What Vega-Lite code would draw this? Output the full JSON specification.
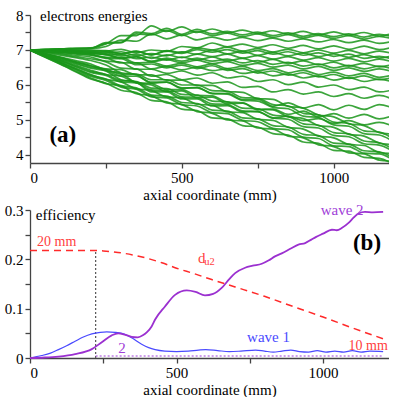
{
"$schema":"https://vega.github.io/schema/vega-lite/v6.json",
"padding":{"left":4,"top":8,"right":0,"bottom":0},
"bounds":"flush",
"spacing":47,
"config":{"font":"Liberation Serif, Times New Roman, serif","view":{"stroke":null},
"axis":{"labelFont":"Liberation Serif, Times New Roman, serif","titleFont":"Liberation Serif, Times New Roman, serif","labelFontSize":15,"titleFontSize":15,"titleFontWeight":"normal","labelColor":"#000","titleColor":"#000","domainColor":"#444","tickColor":"#444","domainWidth":1.3,"tickWidth":1.3,"tickSize":5,"grid":false,"labelPadding":2,"titlePadding":2,"labelOverlap":false,"labelBound":false}},
"datasets":{
"top":[
{"s":1,"x":0,"y":7.0},{"s":1,"x":50,"y":7.02},{"s":1,"x":100,"y":7.03},{"s":1,"x":150,"y":7.05},{"s":1,"x":200,"y":7.06},{"s":1,"x":250,"y":7.17},{"s":1,"x":300,"y":7.41},{"s":1,"x":350,"y":7.41},{"s":1,"x":400,"y":7.69},{"s":1,"x":450,"y":7.53},{"s":1,"x":500,"y":7.66},{"s":1,"x":550,"y":7.50},{"s":1,"x":600,"y":7.60},{"s":1,"x":650,"y":7.49},{"s":1,"x":700,"y":7.57},{"s":1,"x":750,"y":7.47},{"s":1,"x":800,"y":7.55},{"s":1,"x":850,"y":7.45},{"s":1,"x":900,"y":7.53},{"s":1,"x":950,"y":7.43},{"s":1,"x":1000,"y":7.52},{"s":1,"x":1050,"y":7.42},{"s":1,"x":1100,"y":7.50},{"s":1,"x":1150,"y":7.40},{"s":1,"x":1200,"y":7.49},
{"s":2,"x":0,"y":7.0},{"s":2,"x":50,"y":7.01},{"s":2,"x":100,"y":7.03},{"s":2,"x":150,"y":7.04},{"s":2,"x":200,"y":7.05},{"s":2,"x":250,"y":7.19},{"s":2,"x":300,"y":7.21},{"s":2,"x":350,"y":7.46},{"s":2,"x":400,"y":7.43},{"s":2,"x":450,"y":7.56},{"s":2,"x":500,"y":7.41},{"s":2,"x":550,"y":7.53},{"s":2,"x":600,"y":7.41},{"s":2,"x":650,"y":7.48},{"s":2,"x":700,"y":7.38},{"s":2,"x":750,"y":7.46},{"s":2,"x":800,"y":7.36},{"s":2,"x":850,"y":7.44},{"s":2,"x":900,"y":7.34},{"s":2,"x":950,"y":7.42},{"s":2,"x":1000,"y":7.33},{"s":2,"x":1050,"y":7.41},{"s":2,"x":1100,"y":7.31},{"s":2,"x":1150,"y":7.39},{"s":2,"x":1200,"y":7.30},
{"s":3,"x":0,"y":7.0},{"s":3,"x":50,"y":7.01},{"s":3,"x":100,"y":7.02},{"s":3,"x":150,"y":7.03},{"s":3,"x":200,"y":7.04},{"s":3,"x":250,"y":7.10},{"s":3,"x":300,"y":7.28},{"s":3,"x":350,"y":7.25},{"s":3,"x":400,"y":7.46},{"s":3,"x":450,"y":7.32},{"s":3,"x":500,"y":7.43},{"s":3,"x":550,"y":7.29},{"s":3,"x":600,"y":7.37},{"s":3,"x":650,"y":7.28},{"s":3,"x":700,"y":7.36},{"s":3,"x":750,"y":7.27},{"s":3,"x":800,"y":7.34},{"s":3,"x":850,"y":7.25},{"s":3,"x":900,"y":7.32},{"s":3,"x":950,"y":7.23},{"s":3,"x":1000,"y":7.30},{"s":3,"x":1050,"y":7.21},{"s":3,"x":1100,"y":7.28},{"s":3,"x":1150,"y":7.19},{"s":3,"x":1200,"y":7.26},
{"s":4,"x":0,"y":7.0},{"s":4,"x":50,"y":7.0},{"s":4,"x":100,"y":7.0},{"s":4,"x":150,"y":7.0},{"s":4,"x":200,"y":7.0},{"s":4,"x":250,"y":6.97},{"s":4,"x":300,"y":7.02},{"s":4,"x":350,"y":6.92},{"s":4,"x":400,"y":7.0},{"s":4,"x":450,"y":6.96},{"s":4,"x":500,"y":7.10},{"s":4,"x":550,"y":7.06},{"s":4,"x":600,"y":7.20},{"s":4,"x":650,"y":7.09},{"s":4,"x":700,"y":7.17},{"s":4,"x":750,"y":7.07},{"s":4,"x":800,"y":7.15},{"s":4,"x":850,"y":7.05},{"s":4,"x":900,"y":7.13},{"s":4,"x":950,"y":7.03},{"s":4,"x":1000,"y":7.12},{"s":4,"x":1050,"y":7.02},{"s":4,"x":1100,"y":7.11},{"s":4,"x":1150,"y":7.01},{"s":4,"x":1200,"y":7.10},
{"s":5,"x":0,"y":7.0},{"s":5,"x":50,"y":7.0},{"s":5,"x":100,"y":6.99},{"s":5,"x":150,"y":6.99},{"s":5,"x":200,"y":6.98},{"s":5,"x":250,"y":6.98},{"s":5,"x":300,"y":6.90},{"s":5,"x":350,"y":6.97},{"s":5,"x":400,"y":6.86},{"s":5,"x":450,"y":6.98},{"s":5,"x":500,"y":6.93},{"s":5,"x":550,"y":7.06},{"s":5,"x":600,"y":7.0},{"s":5,"x":650,"y":7.08},{"s":5,"x":700,"y":6.97},{"s":5,"x":750,"y":7.04},{"s":5,"x":800,"y":6.94},{"s":5,"x":850,"y":7.02},{"s":5,"x":900,"y":6.92},{"s":5,"x":950,"y":7.0},{"s":5,"x":1000,"y":6.91},{"s":5,"x":1050,"y":6.99},{"s":5,"x":1100,"y":6.89},{"s":5,"x":1150,"y":6.97},{"s":5,"x":1200,"y":6.88},
{"s":6,"x":0,"y":7.0},{"s":6,"x":50,"y":6.99},{"s":6,"x":100,"y":6.98},{"s":6,"x":150,"y":6.97},{"s":6,"x":200,"y":6.96},{"s":6,"x":250,"y":6.91},{"s":6,"x":300,"y":6.95},{"s":6,"x":350,"y":6.83},{"s":6,"x":400,"y":6.90},{"s":6,"x":450,"y":6.83},{"s":6,"x":500,"y":6.95},{"s":6,"x":550,"y":6.88},{"s":6,"x":600,"y":7.0},{"s":6,"x":650,"y":6.89},{"s":6,"x":700,"y":6.96},{"s":6,"x":750,"y":6.85},{"s":6,"x":800,"y":6.93},{"s":6,"x":850,"y":6.83},{"s":6,"x":900,"y":6.91},{"s":6,"x":950,"y":6.81},{"s":6,"x":1000,"y":6.89},{"s":6,"x":1050,"y":6.79},{"s":6,"x":1100,"y":6.87},{"s":6,"x":1150,"y":6.77},{"s":6,"x":1200,"y":6.85},
{"s":7,"x":0,"y":7.0},{"s":7,"x":50,"y":6.99},{"s":7,"x":100,"y":6.97},{"s":7,"x":150,"y":6.96},{"s":7,"x":200,"y":6.94},{"s":7,"x":250,"y":6.93},{"s":7,"x":300,"y":6.83},{"s":7,"x":350,"y":6.88},{"s":7,"x":400,"y":6.76},{"s":7,"x":450,"y":6.86},{"s":7,"x":500,"y":6.78},{"s":7,"x":550,"y":6.88},{"s":7,"x":600,"y":6.81},{"s":7,"x":650,"y":6.88},{"s":7,"x":700,"y":6.77},{"s":7,"x":750,"y":6.84},{"s":7,"x":800,"y":6.74},{"s":7,"x":850,"y":6.81},{"s":7,"x":900,"y":6.71},{"s":7,"x":950,"y":6.78},{"s":7,"x":1000,"y":6.68},{"s":7,"x":1050,"y":6.76},{"s":7,"x":1100,"y":6.66},{"s":7,"x":1150,"y":6.74},{"s":7,"x":1200,"y":6.64},
{"s":8,"x":0,"y":7.0},{"s":8,"x":50,"y":6.98},{"s":8,"x":100,"y":6.96},{"s":8,"x":150,"y":6.94},{"s":8,"x":200,"y":6.92},{"s":8,"x":250,"y":6.86},{"s":8,"x":300,"y":6.88},{"s":8,"x":350,"y":6.75},{"s":8,"x":400,"y":6.80},{"s":8,"x":450,"y":6.71},{"s":8,"x":500,"y":6.80},{"s":8,"x":550,"y":6.71},{"s":8,"x":600,"y":6.80},{"s":8,"x":650,"y":6.69},{"s":8,"x":700,"y":6.76},{"s":8,"x":750,"y":6.65},{"s":8,"x":800,"y":6.73},{"s":8,"x":850,"y":6.62},{"s":8,"x":900,"y":6.69},{"s":8,"x":950,"y":6.58},{"s":8,"x":1000,"y":6.65},{"s":8,"x":1050,"y":6.54},{"s":8,"x":1100,"y":6.62},{"s":8,"x":1150,"y":6.52},{"s":8,"x":1200,"y":6.60},
{"s":9,"x":0,"y":7.0},{"s":9,"x":50,"y":6.98},{"s":9,"x":100,"y":6.95},{"s":9,"x":150,"y":6.93},{"s":9,"x":200,"y":6.9},{"s":9,"x":250,"y":6.87},{"s":9,"x":300,"y":6.76},{"s":9,"x":350,"y":6.80},{"s":9,"x":400,"y":6.66},{"s":9,"x":450,"y":6.73},{"s":9,"x":500,"y":6.63},{"s":9,"x":550,"y":6.71},{"s":9,"x":600,"y":6.61},{"s":9,"x":650,"y":6.67},{"s":9,"x":700,"y":6.56},{"s":9,"x":750,"y":6.62},{"s":9,"x":800,"y":6.51},{"s":9,"x":850,"y":6.57},{"s":9,"x":900,"y":6.46},{"s":9,"x":950,"y":6.53},{"s":9,"x":1000,"y":6.42},{"s":9,"x":1050,"y":6.49},{"s":9,"x":1100,"y":6.39},{"s":9,"x":1150,"y":6.46},{"s":9,"x":1200,"y":6.36},
{"s":10,"x":0,"y":7.0},{"s":10,"x":50,"y":6.97},{"s":10,"x":100,"y":6.94},{"s":10,"x":150,"y":6.91},{"s":10,"x":200,"y":6.88},{"s":10,"x":250,"y":6.79},{"s":10,"x":300,"y":6.79},{"s":10,"x":350,"y":6.63},{"s":10,"x":400,"y":6.65},{"s":10,"x":450,"y":6.54},{"s":10,"x":500,"y":6.62},{"s":10,"x":550,"y":6.52},{"s":10,"x":600,"y":6.60},{"s":10,"x":650,"y":6.47},{"s":10,"x":700,"y":6.53},{"s":10,"x":750,"y":6.41},{"s":10,"x":800,"y":6.47},{"s":10,"x":850,"y":6.35},{"s":10,"x":900,"y":6.42},{"s":10,"x":950,"y":6.30},{"s":10,"x":1000,"y":6.37},{"s":10,"x":1050,"y":6.26},{"s":10,"x":1100,"y":6.33},{"s":10,"x":1150,"y":6.22},{"s":10,"x":1200,"y":6.30},
{"s":11,"x":0,"y":7.0},{"s":11,"x":50,"y":6.96},{"s":11,"x":100,"y":6.93},{"s":11,"x":150,"y":6.89},{"s":11,"x":200,"y":6.85},{"s":11,"x":250,"y":6.78},{"s":11,"x":300,"y":6.63},{"s":11,"x":350,"y":6.63},{"s":11,"x":400,"y":6.46},{"s":11,"x":450,"y":6.53},{"s":11,"x":500,"y":6.43},{"s":11,"x":550,"y":6.51},{"s":11,"x":600,"y":6.41},{"s":11,"x":650,"y":6.46},{"s":11,"x":700,"y":6.33},{"s":11,"x":750,"y":6.38},{"s":11,"x":800,"y":6.26},{"s":11,"x":850,"y":6.32},{"s":11,"x":900,"y":6.20},{"s":11,"x":950,"y":6.26},{"s":11,"x":1000,"y":6.14},{"s":11,"x":1050,"y":6.21},{"s":11,"x":1100,"y":6.10},{"s":11,"x":1150,"y":6.17},{"s":11,"x":1200,"y":6.06},
{"s":12,"x":0,"y":7.0},{"s":12,"x":50,"y":6.95},{"s":12,"x":100,"y":6.9},{"s":12,"x":150,"y":6.85},{"s":12,"x":200,"y":6.8},{"s":12,"x":250,"y":6.68},{"s":12,"x":300,"y":6.65},{"s":12,"x":350,"y":6.45},{"s":12,"x":400,"y":6.45},{"s":12,"x":450,"y":6.33},{"s":12,"x":500,"y":6.40},{"s":12,"x":550,"y":6.28},{"s":12,"x":600,"y":6.35},{"s":12,"x":650,"y":6.20},{"s":12,"x":700,"y":6.25},{"s":12,"x":750,"y":6.10},{"s":12,"x":800,"y":6.15},{"s":12,"x":850,"y":6.01},{"s":12,"x":900,"y":6.08},{"s":12,"x":950,"y":5.94},{"s":12,"x":1000,"y":6.0},{"s":12,"x":1050,"y":5.87},{"s":12,"x":1100,"y":5.94},{"s":12,"x":1150,"y":5.80},{"s":12,"x":1200,"y":5.87},
{"s":13,"x":0,"y":7.0},{"s":13,"x":50,"y":6.93},{"s":13,"x":100,"y":6.85},{"s":13,"x":150,"y":6.78},{"s":13,"x":200,"y":6.7},{"s":13,"x":250,"y":6.57},{"s":13,"x":300,"y":6.35},{"s":13,"x":350,"y":6.30},{"s":13,"x":400,"y":6.05},{"s":13,"x":450,"y":6.08},{"s":13,"x":500,"y":5.90},{"s":13,"x":550,"y":5.93},{"s":13,"x":600,"y":5.75},{"s":13,"x":650,"y":5.76},{"s":13,"x":700,"y":5.58},{"s":13,"x":750,"y":5.59},{"s":13,"x":800,"y":5.39},{"s":13,"x":850,"y":5.49},{"s":13,"x":900,"y":5.34},{"s":13,"x":950,"y":5.44},{"s":13,"x":1000,"y":5.29},{"s":13,"x":1050,"y":5.42},{"s":13,"x":1100,"y":5.30},{"s":13,"x":1150,"y":5.44},{"s":13,"x":1200,"y":5.32},
{"s":14,"x":0,"y":7.0},{"s":14,"x":50,"y":6.9},{"s":14,"x":100,"y":6.8},{"s":14,"x":150,"y":6.7},{"s":14,"x":200,"y":6.6},{"s":14,"x":250,"y":6.42},{"s":14,"x":300,"y":6.33},{"s":14,"x":350,"y":6.06},{"s":14,"x":400,"y":6.0},{"s":14,"x":450,"y":5.81},{"s":14,"x":500,"y":5.83},{"s":14,"x":550,"y":5.64},{"s":14,"x":600,"y":5.65},{"s":14,"x":650,"y":5.46},{"s":14,"x":700,"y":5.48},{"s":14,"x":750,"y":5.29},{"s":14,"x":800,"y":5.31},{"s":14,"x":850,"y":5.16},{"s":14,"x":900,"y":5.25},{"s":14,"x":950,"y":5.09},{"s":14,"x":1000,"y":5.18},{"s":14,"x":1050,"y":5.05},{"s":14,"x":1100,"y":5.16},{"s":14,"x":1150,"y":5.03},{"s":14,"x":1200,"y":5.14},
{"s":15,"x":0,"y":7.0},{"s":15,"x":50,"y":6.89},{"s":15,"x":100,"y":6.78},{"s":15,"x":150,"y":6.66},{"s":15,"x":200,"y":6.55},{"s":15,"x":250,"y":6.40},{"s":15,"x":300,"y":6.15},{"s":15,"x":350,"y":6.08},{"s":15,"x":400,"y":5.80},{"s":15,"x":450,"y":5.80},{"s":15,"x":500,"y":5.60},{"s":15,"x":550,"y":5.60},{"s":15,"x":600,"y":5.40},{"s":15,"x":650,"y":5.41},{"s":15,"x":700,"y":5.23},{"s":15,"x":750,"y":5.24},{"s":15,"x":800,"y":5.05},{"s":15,"x":850,"y":5.11},{"s":15,"x":900,"y":4.98},{"s":15,"x":950,"y":5.04},{"s":15,"x":1000,"y":4.90},{"s":15,"x":1050,"y":4.98},{"s":15,"x":1100,"y":4.86},{"s":15,"x":1150,"y":4.93},{"s":15,"x":1200,"y":4.81},
{"s":16,"x":0,"y":7.0},{"s":16,"x":50,"y":6.89},{"s":16,"x":100,"y":6.78},{"s":16,"x":150,"y":6.66},{"s":16,"x":200,"y":6.55},{"s":16,"x":250,"y":6.46},{"s":16,"x":300,"y":6.44},{"s":16,"x":350,"y":6.29},{"s":16,"x":400,"y":6.29},{"s":16,"x":450,"y":6.14},{"s":16,"x":500,"y":6.14},{"s":16,"x":550,"y":5.99},{"s":16,"x":600,"y":5.99},{"s":16,"x":650,"y":5.81},{"s":16,"x":700,"y":5.79},{"s":16,"x":750,"y":5.61},{"s":16,"x":800,"y":5.59},{"s":16,"x":850,"y":5.39},{"s":16,"x":900,"y":5.34},{"s":16,"x":950,"y":5.14},{"s":16,"x":1000,"y":5.09},{"s":16,"x":1050,"y":4.89},{"s":16,"x":1100,"y":4.84},{"s":16,"x":1150,"y":4.64},{"s":16,"x":1200,"y":4.59},
{"s":17,"x":0,"y":7.0},{"s":17,"x":50,"y":6.87},{"s":17,"x":100,"y":6.74},{"s":17,"x":150,"y":6.61},{"s":17,"x":200,"y":6.48},{"s":17,"x":250,"y":6.41},{"s":17,"x":300,"y":6.26},{"s":17,"x":350,"y":6.25},{"s":17,"x":400,"y":6.08},{"s":17,"x":450,"y":6.08},{"s":17,"x":500,"y":5.92},{"s":17,"x":550,"y":5.92},{"s":17,"x":600,"y":5.76},{"s":17,"x":650,"y":5.74},{"s":17,"x":700,"y":5.56},{"s":17,"x":750,"y":5.54},{"s":17,"x":800,"y":5.36},{"s":17,"x":850,"y":5.32},{"s":17,"x":900,"y":5.11},{"s":17,"x":950,"y":5.07},{"s":17,"x":1000,"y":4.86},{"s":17,"x":1050,"y":4.82},{"s":17,"x":1100,"y":4.61},{"s":17,"x":1150,"y":4.57},{"s":17,"x":1200,"y":4.36},
{"s":18,"x":0,"y":7.0},{"s":18,"x":50,"y":6.86},{"s":18,"x":100,"y":6.71},{"s":18,"x":150,"y":6.57},{"s":18,"x":200,"y":6.42},{"s":18,"x":250,"y":6.30},{"s":18,"x":300,"y":6.25},{"s":18,"x":350,"y":6.07},{"s":18,"x":400,"y":6.04},{"s":18,"x":450,"y":5.87},{"s":18,"x":500,"y":5.87},{"s":18,"x":550,"y":5.70},{"s":18,"x":600,"y":5.69},{"s":18,"x":650,"y":5.51},{"s":18,"x":700,"y":5.49},{"s":18,"x":750,"y":5.31},{"s":18,"x":800,"y":5.29},{"s":18,"x":850,"y":5.09},{"s":18,"x":900,"y":5.04},{"s":18,"x":950,"y":4.84},{"s":18,"x":1000,"y":4.79},{"s":18,"x":1050,"y":4.59},{"s":18,"x":1100,"y":4.54},{"s":18,"x":1150,"y":4.34},{"s":18,"x":1200,"y":4.29},
{"s":19,"x":0,"y":7.0},{"s":19,"x":50,"y":6.84},{"s":19,"x":100,"y":6.68},{"s":19,"x":150,"y":6.52},{"s":19,"x":200,"y":6.36},{"s":19,"x":250,"y":6.27},{"s":19,"x":300,"y":6.09},{"s":19,"x":350,"y":6.06},{"s":19,"x":400,"y":5.86},{"s":19,"x":450,"y":5.84},{"s":19,"x":500,"y":5.66},{"s":19,"x":550,"y":5.64},{"s":19,"x":600,"y":5.46},{"s":19,"x":650,"y":5.44},{"s":19,"x":700,"y":5.26},{"s":19,"x":750,"y":5.24},{"s":19,"x":800,"y":5.06},{"s":19,"x":850,"y":5.02},{"s":19,"x":900,"y":4.81},{"s":19,"x":950,"y":4.77},{"s":19,"x":1000,"y":4.56},{"s":19,"x":1050,"y":4.52},{"s":19,"x":1100,"y":4.32},{"s":19,"x":1150,"y":4.28},{"s":19,"x":1200,"y":4.08},
{"s":20,"x":0,"y":7.0},{"s":20,"x":50,"y":6.83},{"s":20,"x":100,"y":6.65},{"s":20,"x":150,"y":6.48},{"s":20,"x":200,"y":6.3},{"s":20,"x":250,"y":6.16},{"s":20,"x":300,"y":6.09},{"s":20,"x":350,"y":5.89},{"s":20,"x":400,"y":5.84},{"s":20,"x":450,"y":5.66},{"s":20,"x":500,"y":5.63},{"s":20,"x":550,"y":5.45},{"s":20,"x":600,"y":5.42},{"s":20,"x":650,"y":5.23},{"s":20,"x":700,"y":5.21},{"s":20,"x":750,"y":5.02},{"s":20,"x":800,"y":4.99},{"s":20,"x":850,"y":4.79},{"s":20,"x":900,"y":4.74},{"s":20,"x":950,"y":4.54},{"s":20,"x":1000,"y":4.49},{"s":20,"x":1050,"y":4.30},{"s":20,"x":1100,"y":4.27},{"s":20,"x":1150,"y":4.07},{"s":20,"x":1200,"y":4.04},
{"s":21,"x":0,"y":7.0},{"s":21,"x":50,"y":6.81},{"s":21,"x":100,"y":6.63},{"s":21,"x":150,"y":6.44},{"s":21,"x":200,"y":6.25},{"s":21,"x":250,"y":6.13},{"s":21,"x":300,"y":5.94},{"s":21,"x":350,"y":5.88},{"s":21,"x":400,"y":5.66},{"s":21,"x":450,"y":5.63},{"s":21,"x":500,"y":5.44},{"s":21,"x":550,"y":5.40},{"s":21,"x":600,"y":5.21},{"s":21,"x":650,"y":5.18},{"s":21,"x":700,"y":4.99},{"s":21,"x":750,"y":4.95},{"s":21,"x":800,"y":4.76},{"s":21,"x":850,"y":4.72},{"s":21,"x":900,"y":4.51},{"s":21,"x":950,"y":4.47},{"s":21,"x":1000,"y":4.26},{"s":21,"x":1050,"y":4.24},{"s":21,"x":1100,"y":4.05},{"s":21,"x":1150,"y":4.03},{"s":21,"x":1200,"y":3.84},
{"s":22,"x":0,"y":7.0},{"s":22,"x":50,"y":6.8},{"s":22,"x":100,"y":6.6},{"s":22,"x":150,"y":6.4},{"s":22,"x":200,"y":6.2},{"s":22,"x":250,"y":6.04},{"s":22,"x":300,"y":5.97},{"s":22,"x":350,"y":5.75},{"s":22,"x":400,"y":5.69},{"s":22,"x":450,"y":5.49},{"s":22,"x":500,"y":5.44},{"s":22,"x":550,"y":5.24},{"s":22,"x":600,"y":5.19},{"s":22,"x":650,"y":5.0},{"s":22,"x":700,"y":4.97},{"s":22,"x":750,"y":4.77},{"s":22,"x":800,"y":4.74},{"s":22,"x":850,"y":4.54},{"s":22,"x":900,"y":4.49},{"s":22,"x":950,"y":4.29},{"s":22,"x":1000,"y":4.24},{"s":22,"x":1050,"y":4.06},{"s":22,"x":1100,"y":4.03},{"s":22,"x":1150,"y":3.85},{"s":22,"x":1200,"y":3.82},
{"s":23,"x":0,"y":7.0},{"s":23,"x":50,"y":6.88},{"s":23,"x":100,"y":6.76},{"s":23,"x":150,"y":6.63},{"s":23,"x":200,"y":6.51},{"s":23,"x":250,"y":6.45},{"s":23,"x":300,"y":6.31},{"s":23,"x":350,"y":6.31},{"s":23,"x":400,"y":6.15},{"s":23,"x":450,"y":6.15},{"s":23,"x":500,"y":6.0},{"s":23,"x":550,"y":6.0},{"s":23,"x":600,"y":5.84},{"s":23,"x":650,"y":5.82},{"s":23,"x":700,"y":5.64},{"s":23,"x":750,"y":5.62},{"s":23,"x":800,"y":5.44},{"s":23,"x":850,"y":5.40},{"s":23,"x":900,"y":5.19},{"s":23,"x":950,"y":5.15},{"s":23,"x":1000,"y":4.94},{"s":23,"x":1050,"y":4.90},{"s":23,"x":1100,"y":4.69},{"s":23,"x":1150,"y":4.65},{"s":23,"x":1200,"y":4.44},
{"s":24,"x":0,"y":7.0},{"s":24,"x":50,"y":6.85},{"s":24,"x":100,"y":6.70},{"s":24,"x":150,"y":6.54},{"s":24,"x":200,"y":6.39},{"s":24,"x":250,"y":6.30},{"s":24,"x":300,"y":6.13},{"s":24,"x":350,"y":6.10},{"s":24,"x":400,"y":5.91},{"s":24,"x":450,"y":5.90},{"s":24,"x":500,"y":5.73},{"s":24,"x":550,"y":5.71},{"s":24,"x":600,"y":5.54},{"s":24,"x":650,"y":5.52},{"s":24,"x":700,"y":5.34},{"s":24,"x":750,"y":5.32},{"s":24,"x":800,"y":5.14},{"s":24,"x":850,"y":5.10},{"s":24,"x":900,"y":4.89},{"s":24,"x":950,"y":4.85},{"s":24,"x":1000,"y":4.64},{"s":24,"x":1050,"y":4.60},{"s":24,"x":1100,"y":4.40},{"s":24,"x":1150,"y":4.35},{"s":24,"x":1200,"y":4.15},
{"s":25,"x":0,"y":7.0},{"s":25,"x":50,"y":6.82},{"s":25,"x":100,"y":6.64},{"s":25,"x":150,"y":6.46},{"s":25,"x":200,"y":6.28},{"s":25,"x":250,"y":6.17},{"s":25,"x":300,"y":5.98},{"s":25,"x":350,"y":5.92},{"s":25,"x":400,"y":5.71},{"s":25,"x":450,"y":5.68},{"s":25,"x":500,"y":5.50},{"s":25,"x":550,"y":5.47},{"s":25,"x":600,"y":5.28},{"s":25,"x":650,"y":5.25},{"s":25,"x":700,"y":5.06},{"s":25,"x":750,"y":5.03},{"s":25,"x":800,"y":4.84},{"s":25,"x":850,"y":4.80},{"s":25,"x":900,"y":4.59},{"s":25,"x":950,"y":4.55},{"s":25,"x":1000,"y":4.34},{"s":25,"x":1050,"y":4.31},{"s":25,"x":1100,"y":4.12},{"s":25,"x":1150,"y":4.09},{"s":25,"x":1200,"y":3.90},
{"s":26,"x":0,"y":7.0},{"s":26,"x":50,"y":6.94},{"s":26,"x":100,"y":6.88},{"s":26,"x":150,"y":6.81},{"s":26,"x":200,"y":6.75},{"s":26,"x":250,"y":6.66},{"s":26,"x":300,"y":6.48},{"s":26,"x":350,"y":6.46},{"s":26,"x":400,"y":6.25},{"s":26,"x":450,"y":6.30},{"s":26,"x":500,"y":6.15},{"s":26,"x":550,"y":6.20},{"s":26,"x":600,"y":6.05},{"s":26,"x":650,"y":6.09},{"s":26,"x":700,"y":5.93},{"s":26,"x":750,"y":5.96},{"s":26,"x":800,"y":5.80},{"s":26,"x":850,"y":5.87},{"s":26,"x":900,"y":5.74},{"s":26,"x":950,"y":5.80},{"s":26,"x":1000,"y":5.67},{"s":26,"x":1050,"y":5.75},{"s":26,"x":1100,"y":5.62},{"s":26,"x":1150,"y":5.70},{"s":26,"x":1200,"y":5.57},
{"s":27,"x":0,"y":7.0},{"s":27,"x":50,"y":6.99},{"s":27,"x":100,"y":6.98},{"s":27,"x":150,"y":6.96},{"s":27,"x":200,"y":6.95},{"s":27,"x":250,"y":6.96},{"s":27,"x":300,"y":6.88},{"s":27,"x":350,"y":6.96},{"s":27,"x":400,"y":6.86},{"s":27,"x":450,"y":6.97},{"s":27,"x":500,"y":6.90},{"s":27,"x":550,"y":7.01},{"s":27,"x":600,"y":6.94},{"s":27,"x":650,"y":7.01},{"s":27,"x":700,"y":6.91},{"s":27,"x":750,"y":6.98},{"s":27,"x":800,"y":6.88},{"s":27,"x":850,"y":6.95},{"s":27,"x":900,"y":6.85},{"s":27,"x":950,"y":6.92},{"s":27,"x":1000,"y":6.82},{"s":27,"x":1050,"y":6.88},{"s":27,"x":1100,"y":6.76},{"s":27,"x":1150,"y":6.82},{"s":27,"x":1200,"y":6.71},
{"s":28,"x":0,"y":7.0},{"s":28,"x":50,"y":6.98},{"s":28,"x":100,"y":6.96},{"s":28,"x":150,"y":6.93},{"s":28,"x":200,"y":6.91},{"s":28,"x":250,"y":6.88},{"s":28,"x":300,"y":6.77},{"s":28,"x":350,"y":6.81},{"s":28,"x":400,"y":6.68},{"s":28,"x":450,"y":6.77},{"s":28,"x":500,"y":6.68},{"s":28,"x":550,"y":6.77},{"s":28,"x":600,"y":6.68},{"s":28,"x":650,"y":6.74},{"s":28,"x":700,"y":6.63},{"s":28,"x":750,"y":6.70},{"s":28,"x":800,"y":6.59},{"s":28,"x":850,"y":6.65},{"s":28,"x":900,"y":6.54},{"s":28,"x":950,"y":6.60},{"s":28,"x":1000,"y":6.49},{"s":28,"x":1050,"y":6.56},{"s":28,"x":1100,"y":6.46},{"s":28,"x":1150,"y":6.54},{"s":28,"x":1200,"y":6.44},
{"s":29,"x":0,"y":7.0},{"s":29,"x":50,"y":6.97},{"s":29,"x":100,"y":6.93},{"s":29,"x":150,"y":6.90},{"s":29,"x":200,"y":6.86},{"s":29,"x":250,"y":6.76},{"s":29,"x":300,"y":6.75},{"s":29,"x":350,"y":6.58},{"s":29,"x":400,"y":6.60},{"s":29,"x":450,"y":6.49},{"s":29,"x":500,"y":6.57},{"s":29,"x":550,"y":6.47},{"s":29,"x":600,"y":6.55},{"s":29,"x":650,"y":6.42},{"s":29,"x":700,"y":6.47},{"s":29,"x":750,"y":6.34},{"s":29,"x":800,"y":6.40},{"s":29,"x":850,"y":6.28},{"s":29,"x":900,"y":6.35},{"s":29,"x":950,"y":6.23},{"s":29,"x":1000,"y":6.30},{"s":29,"x":1050,"y":6.19},{"s":29,"x":1100,"y":6.26},{"s":29,"x":1150,"y":6.15},{"s":29,"x":1200,"y":6.23},
{"s":30,"x":0,"y":7.0},{"s":30,"x":50,"y":7.01},{"s":30,"x":100,"y":7.03},{"s":30,"x":150,"y":7.04},{"s":30,"x":200,"y":7.05},{"s":30,"x":250,"y":7.21},{"s":30,"x":300,"y":7.22},{"s":30,"x":350,"y":7.51},{"s":30,"x":400,"y":7.47},{"s":30,"x":450,"y":7.62},{"s":30,"x":500,"y":7.45},{"s":30,"x":550,"y":7.59},{"s":30,"x":600,"y":7.46},{"s":30,"x":650,"y":7.53},{"s":30,"x":700,"y":7.43},{"s":30,"x":750,"y":7.51},{"s":30,"x":800,"y":7.41},{"s":30,"x":850,"y":7.49},{"s":30,"x":900,"y":7.39},{"s":30,"x":950,"y":7.47},{"s":30,"x":1000,"y":7.38},{"s":30,"x":1050,"y":7.46},{"s":30,"x":1100,"y":7.37},{"s":30,"x":1150,"y":7.45},{"s":30,"x":1200,"y":7.36},
{"s":31,"x":0,"y":7.0},{"s":31,"x":50,"y":6.79},{"s":31,"x":100,"y":6.59},{"s":31,"x":150,"y":6.38},{"s":31,"x":200,"y":6.17},{"s":31,"x":250,"y":6.05},{"s":31,"x":300,"y":5.85},{"s":31,"x":350,"y":5.78},{"s":31,"x":400,"y":5.56},{"s":31,"x":450,"y":5.52},{"s":31,"x":500,"y":5.31},{"s":31,"x":550,"y":5.27},{"s":31,"x":600,"y":5.06},{"s":31,"x":650,"y":5.03},{"s":31,"x":700,"y":4.84},{"s":31,"x":750,"y":4.80},{"s":31,"x":800,"y":4.61},{"s":31,"x":850,"y":4.57},{"s":31,"x":900,"y":4.37},{"s":31,"x":950,"y":4.33},{"s":31,"x":1000,"y":4.13},{"s":31,"x":1050,"y":4.11},{"s":31,"x":1100,"y":3.93},{"s":31,"x":1150,"y":3.90},{"s":31,"x":1200,"y":3.72}
],
"bot":[
{"s":"w1","x":0,"y":0},{"s":"w1","x":40,"y":0.005},{"s":"w1","x":70,"y":0.01},{"s":"w1","x":97,"y":0.017},{"s":"w1","x":125,"y":0.025},{"s":"w1","x":154,"y":0.034},{"s":"w1","x":180,"y":0.042},{"s":"w1","x":211,"y":0.049},{"s":"w1","x":240,"y":0.052},{"s":"w1","x":262,"y":0.053},{"s":"w1","x":290,"y":0.052},{"s":"w1","x":324,"y":0.048},{"s":"w1","x":350,"y":0.04},{"s":"w1","x":381,"y":0.028},{"s":"w1","x":405,"y":0.021},{"s":"w1","x":427,"y":0.017},{"s":"w1","x":460,"y":0.014},{"s":"w1","x":500,"y":0.013},{"s":"w1","x":540,"y":0.014},{"s":"w1","x":575,"y":0.016},{"s":"w1","x":600,"y":0.017},{"s":"w1","x":640,"y":0.015},{"s":"w1","x":680,"y":0.013},{"s":"w1","x":720,"y":0.014},{"s":"w1","x":770,"y":0.016},{"s":"w1","x":800,"y":0.014},{"s":"w1","x":830,"y":0.012},{"s":"w1","x":860,"y":0.014},{"s":"w1","x":890,"y":0.016},{"s":"w1","x":920,"y":0.013},{"s":"w1","x":950,"y":0.012},{"s":"w1","x":980,"y":0.015},{"s":"w1","x":1010,"y":0.012},{"s":"w1","x":1040,"y":0.014},{"s":"w1","x":1070,"y":0.012},{"s":"w1","x":1100,"y":0.015},{"s":"w1","x":1130,"y":0.012},{"s":"w1","x":1160,"y":0.014},{"s":"w1","x":1205,"y":0.013},
{"s":"w2","x":0,"y":0},{"s":"w2","x":50,"y":0.001},{"s":"w2","x":97,"y":0.003},{"s":"w2","x":154,"y":0.008},{"s":"w2","x":211,"y":0.018},{"s":"w2","x":245,"y":0.032},{"s":"w2","x":279,"y":0.046},{"s":"w2","x":301,"y":0.05},{"s":"w2","x":325,"y":0.047},{"s":"w2","x":347,"y":0.043},{"s":"w2","x":368,"y":0.042},{"s":"w2","x":385,"y":0.046},{"s":"w2","x":400,"y":0.053},{"s":"w2","x":415,"y":0.064},{"s":"w2","x":427,"y":0.078},{"s":"w2","x":460,"y":0.104},{"s":"w2","x":495,"y":0.128},{"s":"w2","x":535,"y":0.137},{"s":"w2","x":565,"y":0.134},{"s":"w2","x":597,"y":0.127},{"s":"w2","x":625,"y":0.13},{"s":"w2","x":654,"y":0.142},{"s":"w2","x":680,"y":0.16},{"s":"w2","x":700,"y":0.172},{"s":"w2","x":734,"y":0.183},{"s":"w2","x":760,"y":0.187},{"s":"w2","x":791,"y":0.191},{"s":"w2","x":815,"y":0.198},{"s":"w2","x":836,"y":0.206},{"s":"w2","x":859,"y":0.212},{"s":"w2","x":890,"y":0.222},{"s":"w2","x":916,"y":0.23},{"s":"w2","x":939,"y":0.233},{"s":"w2","x":960,"y":0.24},{"s":"w2","x":975,"y":0.245},{"s":"w2","x":1000,"y":0.252},{"s":"w2","x":1030,"y":0.26},{"s":"w2","x":1047,"y":0.259},{"s":"w2","x":1065,"y":0.264},{"s":"w2","x":1087,"y":0.274},{"s":"w2","x":1105,"y":0.285},{"s":"w2","x":1121,"y":0.293},{"s":"w2","x":1143,"y":0.296},{"s":"w2","x":1170,"y":0.295},{"s":"w2","x":1205,"y":0.296},
{"s":"du","x":0,"y":0.218},{"s":"du","x":100,"y":0.218},{"s":"du","x":200,"y":0.218},{"s":"du","x":250,"y":0.217},{"s":"du","x":300,"y":0.214},{"s":"du","x":350,"y":0.209},{"s":"du","x":400,"y":0.202},{"s":"du","x":450,"y":0.193},{"s":"du","x":500,"y":0.182},{"s":"du","x":560,"y":0.171},{"s":"du","x":620,"y":0.159},{"s":"du","x":700,"y":0.144},{"s":"du","x":800,"y":0.125},{"s":"du","x":900,"y":0.104},{"s":"du","x":1000,"y":0.083},{"s":"du","x":1100,"y":0.061},{"s":"du","x":1205,"y":0.039}
]
},
"vconcat":[
{"width":359,"height":148,
"encoding":{"x":{"field":"x","type":"quantitative","scale":{"domain":[0,1182],"nice":false,"zero":false},"axis":{"values":[0,250,500,750,1000],"labelExpr":"datum.value % 500 === 0 ? format(datum.value,'d') : ''","title":"axial coordinate (mm)"}},
"y":{"field":"y","type":"quantitative","scale":{"domain":[3.77,8],"nice":false,"zero":false},"axis":{"values":[4,4.5,5,5.5,6,6.5,7,7.5,8],"labelExpr":"datum.value % 1 === 0 ? format(datum.value,'d') : ''","title":null}}},
"layer":[
{"data":{"name":"top"},"mark":{"type":"line","interpolate":"monotone","clip":true,"color":"#1a951a","strokeWidth":1.7,"opacity":0.85},"encoding":{"detail":{"field":"s"}}},
{"data":{"values":[{"x":33,"y":7.97,"t":"electrons energies"}]},"mark":{"type":"text","align":"left","baseline":"middle","fontSize":15,"color":"#000"},"encoding":{"text":{"field":"t"}}},
{"data":{"values":[{"x":108,"y":4.57,"t":"(a)"}]},"mark":{"type":"text","align":"center","baseline":"middle","fontSize":23,"fontWeight":"bold","color":"#000"},"encoding":{"text":{"field":"t"}}}
]},
{"width":359,"height":148,
"encoding":{"x":{"field":"x","type":"quantitative","scale":{"domain":[0,1225],"nice":false,"zero":false},"axis":{"values":[0,250,500,750,1000],"labelExpr":"datum.value % 500 === 0 ? format(datum.value,'d') : ''","title":"axial coordinate (mm)"}},
"y":{"field":"y","type":"quantitative","scale":{"domain":[0,0.3],"nice":false,"zero":false},"axis":{"values":[0,0.05,0.1,0.15,0.2,0.25,0.3],"labelExpr":"round(datum.value*100) % 10 === 0 ? format(datum.value,'.1~f') : ''","title":null}}},
"layer":[
{"data":{"values":[{"x":224,"y":0,"y2":0.218}]},"mark":{"type":"rule","color":"#555","strokeWidth":1.2,"strokeDash":[2,2]},"encoding":{"y2":{"field":"y2"}}},
{"data":{"values":[{"x":224,"x2":1205,"y":0.004}]},"mark":{"type":"rule","color":"#a040d8","strokeWidth":1.1,"strokeDash":[2,2]},"encoding":{"x2":{"field":"x2"}}},
{"data":{"name":"bot"},"transform":[{"filter":"datum.s === 'du'"}],"mark":{"type":"line","color":"#ff2a2a","strokeWidth":1.5,"strokeDash":[7,5],"interpolate":"monotone"},"encoding":{}},
{"data":{"name":"bot"},"transform":[{"filter":"datum.s === 'w1'"}],"mark":{"type":"line","color":"#4a4aff","strokeWidth":1.2,"interpolate":"monotone"},"encoding":{}},
{"data":{"name":"bot"},"transform":[{"filter":"datum.s === 'w2'"}],"mark":{"type":"line","color":"#9b30d0","strokeWidth":1.8,"interpolate":"monotone"},"encoding":{}},
{"data":{"values":[{"x":20,"y":0.29,"t":"efficiency"}]},"mark":{"type":"text","align":"left","baseline":"middle","fontSize":15,"color":"#000"},"encoding":{"text":{"field":"t"}}},
{"data":{"values":[{"x":24,"y":0.236,"t":"20 mm"}]},"mark":{"type":"text","align":"left","baseline":"middle","fontSize":14,"color":"#ff4040"},"encoding":{"text":{"field":"t"}}},
{"data":{"values":[{"x":1221,"y":0.025,"t":"10 mm"}]},"mark":{"type":"text","align":"right","baseline":"middle","fontSize":14,"color":"#ff4040"},"encoding":{"text":{"field":"t"}}},
{"data":{"values":[{"x":573,"y":0.203,"t":"d"}]},"mark":{"type":"text","align":"left","baseline":"middle","fontSize":15,"color":"#ff4040"},"encoding":{"text":{"field":"t"}}},
{"data":{"values":[{"x":595,"y":0.195,"t":"u2"}]},"mark":{"type":"text","align":"left","baseline":"middle","fontSize":10.5,"color":"#ff4040"},"encoding":{"text":{"field":"t"}}},
{"data":{"values":[{"x":1065,"y":0.3,"t":"wave 2"},{"x":314,"y":0.02,"t":"2"}]},"mark":{"type":"text","align":"center","baseline":"middle","fontSize":15,"color":"#a040d8"},"encoding":{"text":{"field":"t"}}},
{"data":{"values":[{"x":814,"y":0.042,"t":"wave 1"}]},"mark":{"type":"text","align":"center","baseline":"middle","fontSize":15,"color":"#4a4aff"},"encoding":{"text":{"field":"t"}}},
{"data":{"values":[{"x":1150,"y":0.234,"t":"(b)"}]},"mark":{"type":"text","align":"center","baseline":"middle","fontSize":23,"fontWeight":"bold","color":"#000"},"encoding":{"text":{"field":"t"}}}
]}
]
}
